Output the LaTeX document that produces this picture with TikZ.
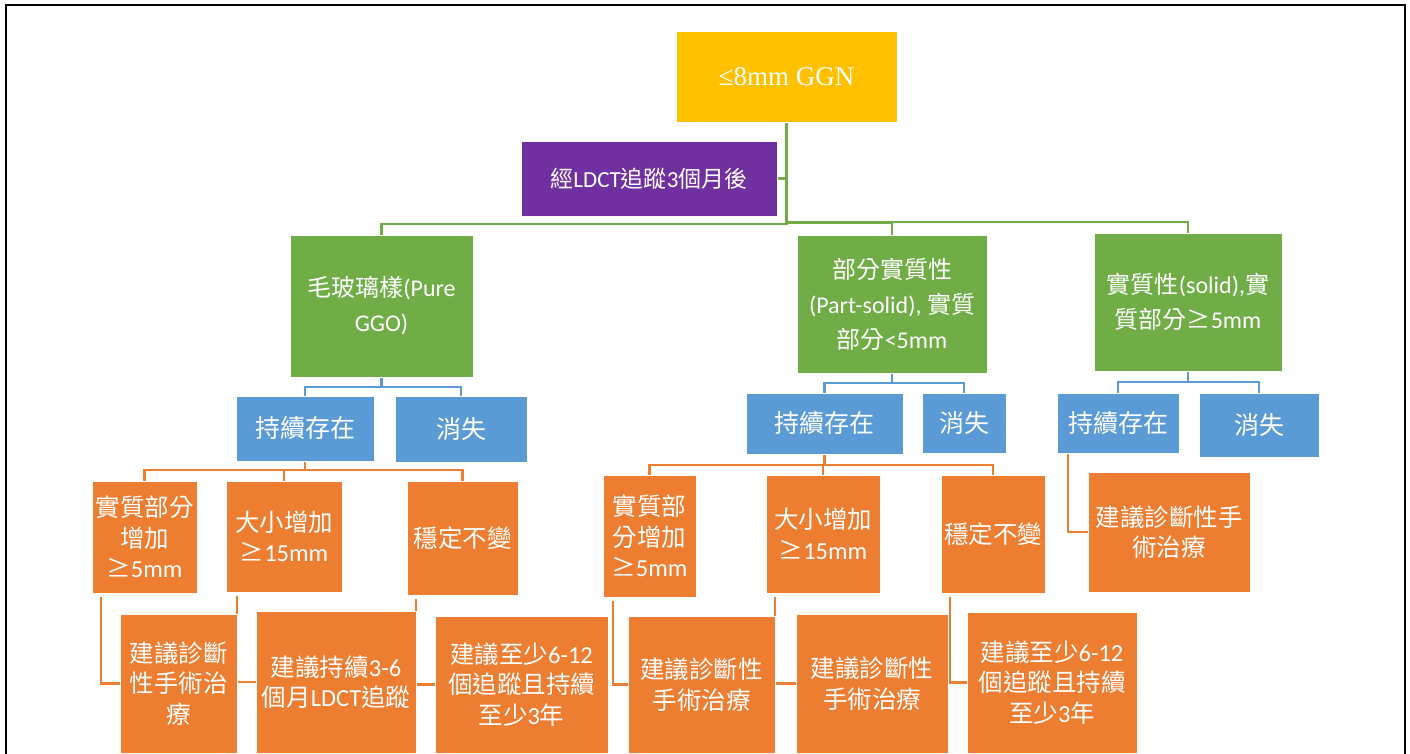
\documentclass[tikz,border=0pt]{standalone}
\usepackage{fontspec}
\usetikzlibrary{calc}
\newfontfamily\cjk{Noto Sans CJK TC}
\newfontfamily\lat{Carlito}
\newfontfamily\rootfont{Liberation Serif}
\definecolor{cyellow}{HTML}{FFC000}
\definecolor{cpurple}{HTML}{7030A0}
\definecolor{cgreen}{HTML}{70AD47}
\definecolor{cblue}{HTML}{5B9BD5}
\definecolor{corange}{HTML}{ED7D31}
\pgfdeclarelayer{bg}
\pgfsetlayers{bg,main}
\newcommand\mkbox[7]{\node[#1, minimum width={#5-#3}, minimum height={#6-#4}] (#2) at ({(#3+#5)/2},{(#4+#6)/2}) {#7};}
\tikzset{
  boxbase/.style={rectangle, draw=white, line width=0.6pt, text=white, align=center, inner sep=0pt},
  yellowbox/.style={boxbase, fill=cyellow, font=\fontsize{27}{30}\selectfont\rootfont},
  purplebox/.style={boxbase, fill=cpurple, font=\fontsize{23}{30}\selectfont\cjk},
  greenbox/.style={boxbase, fill=cgreen, font=\fontsize{24}{35}\selectfont\cjk},
  bluebox/.style={boxbase, fill=cblue, font=\fontsize{25}{30}\selectfont\cjk},
  orangebox/.style={boxbase, fill=corange, font=\fontsize{24.5}{30.5}\selectfont\cjk},
  gline/.style={draw=cgreen, line width=2.4pt},
  bline/.style={draw=cblue, line width=2.2pt},
  oline/.style={draw=corange, line width=2.4pt},
}
\begin{document}
\begin{tikzpicture}[x=1pt,y=-1pt]
\useasboundingbox (0,0) rectangle (1410,753);
% frame
\draw[line width=2pt] (6,770) -- (6,5) -- (1405,5) -- (1405,770);

% boxes
\mkbox{yellowbox}{root}{676}{31}{897}{122}{≤8mm GGN}
\mkbox{purplebox}{step3m}{521}{141}{777}{216}{經{\lat LDCT}追蹤{\lat 3}個月後}
\mkbox{greenbox}{g1}{290}{235}{473}{377}{毛玻璃樣{\lat (Pure}\\{\lat GGO)}}
\mkbox{greenbox}{g2}{797}{235}{987}{373}{部分實質性\\{\lat (Part-solid),} 實質\\部分{\lat <5mm}}
\mkbox{greenbox}{g3}{1094}{233}{1282}{371}{實質性{\lat (solid),}實\\質部分≥{\lat 5mm}}

\mkbox{bluebox}{b1a}{236}{396}{374}{461}{持續存在}
\mkbox{bluebox}{b1b}{395}{396}{527}{462}{消失}
\mkbox{bluebox}{b2a}{746}{393}{903}{454}{持續存在}
\mkbox{bluebox}{b2b}{922}{393}{1006}{453}{消失}
\mkbox{bluebox}{b3a}{1057}{393}{1179}{453}{持續存在}
\mkbox{bluebox}{b3b}{1199}{393}{1319}{457}{消失}

\mkbox{orangebox}{o1}{92}{481}{197}{593}{實質部分\\增加\\≥{\lat 5mm}}
\mkbox{orangebox}{o2}{226}{481}{342}{592}{大小增加\\≥{\lat 15mm}}
\mkbox{orangebox}{o3}{407}{481}{518}{595}{穩定不變}
\mkbox{orangebox}{o4}{603}{475}{696}{597}{實質部\\分增加\\≥{\lat 5mm}}
\mkbox{orangebox}{o5}{766}{475}{880}{593}{大小增加\\≥{\lat 15mm}}
\mkbox{orangebox}{o6}{941}{475}{1045}{593}{穩定不變}
\mkbox{orangebox}{r1}{1088}{472}{1250}{592}{建議診斷性手\\術治療}

\mkbox{orangebox}{p1}{120}{614}{237}{753}{建議診斷\\性手術治\\療}
\mkbox{orangebox}{p2}{256}{611}{416}{753}{建議持續{\lat 3-6}\\個月{\lat LDCT}追蹤}
\mkbox{orangebox}{p3}{435}{616}{608}{753}{建議至少{\lat 6-12}\\個追蹤且持續\\至少{\lat 3}年}
\mkbox{orangebox}{q1}{628}{616}{775}{753}{建議診斷性\\手術治療}
\mkbox{orangebox}{q2}{796}{614}{948}{753}{建議診斷性\\手術治療}
\mkbox{orangebox}{q3}{967}{612}{1137}{753}{建議至少{\lat 6-12}\\個追蹤且持續\\至少{\lat 3}年}

% connectors behind the boxes
\begin{pgfonlayer}{bg}
\draw[gline] (root.south) |- ($(g1.north)+(0,-11)$) -- (g1.north);
\draw[gline] (root.south) |- ($(g2.north)+(0,-12)$) -- (g2.north);
\draw[gline] (root.south) |- ($(g3.north)+(0,-11)$) -- (g3.north);
\draw[gline] (step3m.east) -- (step3m.east -| root.south);

\draw[bline] (g1.south) |- ($(b1a.north)+(0,-9)$) -- (b1a.north);
\draw[bline] (g1.south) |- ($(b1b.north)+(0,-9)$) -- (b1b.north);
\draw[bline] (g2.south) |- ($(b2a.north)+(0,-10)$) -- (b2a.north);
\draw[bline] (g2.south) |- ($(b2b.north)+(0,-10)$) -- (b2b.north);
\draw[bline] (g3.south) |- ($(b3a.north)+(0,-11)$) -- (b3a.north);
\draw[bline] (g3.south) |- ($(b3b.north)+(0,-11)$) -- (b3b.north);

\draw[oline] (b1a.south) |- ($(o1.north)+(0,-11)$) -- (o1.north);
\draw[oline] (b1a.south) |- ($(o2.north)+(0,-11)$) -- (o2.north);
\draw[oline] (b1a.south) |- ($(o3.north)+(0,-11)$) -- (o3.north);
\draw[oline] (b2a.south) |- ($(o4.north)+(0,-10)$) -- (o4.north);
\draw[oline] (b2a.south) |- ($(o5.north)+(0,-10)$) -- (o5.north);
\draw[oline] (b2a.south) |- ($(o6.north)+(0,-10)$) -- (o6.north);

\draw[oline] ($(o1.south west)+(9,4)$) |- (p1.west);
\draw[oline] ($(o2.south west)+(11,4)$) |- (p2.west);
\draw[oline] ($(o3.south west)+(9,4)$) |- (p3.west);
\draw[oline] ($(o4.south west)+(10,4)$) |- (q1.west);
\draw[oline] ($(o5.south west)+(9,4)$) |- (q2.west);
\draw[oline] ($(o6.south west)+(9,4)$) |- (q3.west);
\draw[oline] ($(b3a.south west)+(11,0)$) |- (r1.west);
\end{pgfonlayer}
\end{tikzpicture}
\end{document}
